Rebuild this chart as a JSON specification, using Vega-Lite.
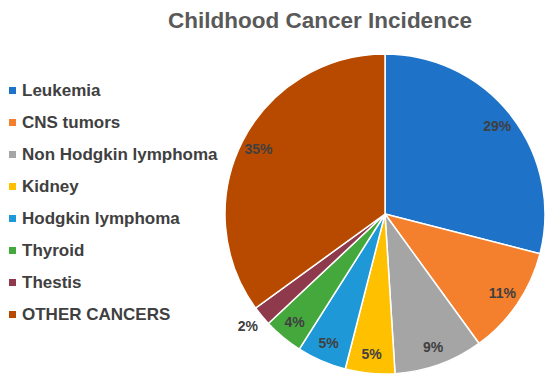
{
  "$schema": "https://vega.github.io/schema/vega-lite/v6.json",
  "autosize": "none",
  "width": 320,
  "height": 320,
  "padding": {"left": 225, "top": 54, "right": 5, "bottom": 6},
  "background": "white",
  "title": {
    "text": "Childhood Cancer Incidence",
    "font": "Liberation Sans",
    "fontSize": 22.5,
    "fontWeight": "bold",
    "color": "#595959",
    "anchor": "middle",
    "dx": -65,
    "offset": 19
  },
  "data": {
    "values": [
      {"type": "Leukemia", "value": 29, "label": "29%", "rank": 1},
      {"type": "CNS tumors", "value": 11, "label": "11%", "rank": 2},
      {"type": "Non Hodgkin lymphoma", "value": 9, "label": "9%", "rank": 3},
      {"type": "Kidney", "value": 5, "label": "5%", "rank": 4},
      {"type": "Hodgkin lymphoma", "value": 5, "label": "5%", "rank": 5},
      {"type": "Thyroid", "value": 4, "label": "4%", "rank": 6},
      {"type": "Thestis", "value": 2, "label": "2%", "rank": 7},
      {"type": "OTHER CANCERS", "value": 35, "label": "35%", "rank": 8}
    ]
  },
  "encoding": {
    "theta": {"field": "value", "type": "quantitative", "stack": true},
    "order": {"field": "rank", "type": "quantitative"},
    "color": {
      "field": "type",
      "type": "nominal",
      "sort": ["Leukemia", "CNS tumors", "Non Hodgkin lymphoma", "Kidney", "Hodgkin lymphoma", "Thyroid", "Thestis", "OTHER CANCERS"],
      "scale": {
        "domain": ["Leukemia", "CNS tumors", "Non Hodgkin lymphoma", "Kidney", "Hodgkin lymphoma", "Thyroid", "Thestis", "OTHER CANCERS"],
        "range": ["#1E72C8", "#F47F2C", "#A5A5A5", "#FFC000", "#1E98D6", "#45A83D", "#8E3A4C", "#B84A00"]
      },
      "legend": {
        "title": null,
        "orient": "none",
        "legendX": -221,
        "legendY": 28,
        "symbolType": "square",
        "symbolSize": 49,
        "symbolStrokeWidth": 0,
        "labelFont": "Liberation Sans",
        "labelFontSize": 17,
        "labelFontWeight": "bold",
        "labelColor": "#404040",
        "labelOffset": 1,
        "rowPadding": 14,
        "labelLimit": 300
      }
    }
  },
  "layer": [
    {
      "mark": {"type": "arc", "outerRadius": 160, "stroke": "white", "strokeWidth": 1.5}
    },
    {
      "mark": {"type": "text", "radius": 142, "font": "Liberation Sans", "fontSize": 14, "fontWeight": "bold", "color": "#404040"},
      "encoding": {
        "color": {"value": "#404040"},
        "text": {"condition": {"test": "datum.value < 3", "value": ""}, "field": "label"}
      }
    },
    {
      "mark": {"type": "text", "radius": 178, "font": "Liberation Sans", "fontSize": 14, "fontWeight": "bold", "color": "#404040"},
      "encoding": {
        "color": {"value": "#404040"},
        "text": {"condition": {"test": "datum.value >= 3", "value": ""}, "field": "label"}
      }
    }
  ],
  "config": {"view": {"stroke": null}}
}
